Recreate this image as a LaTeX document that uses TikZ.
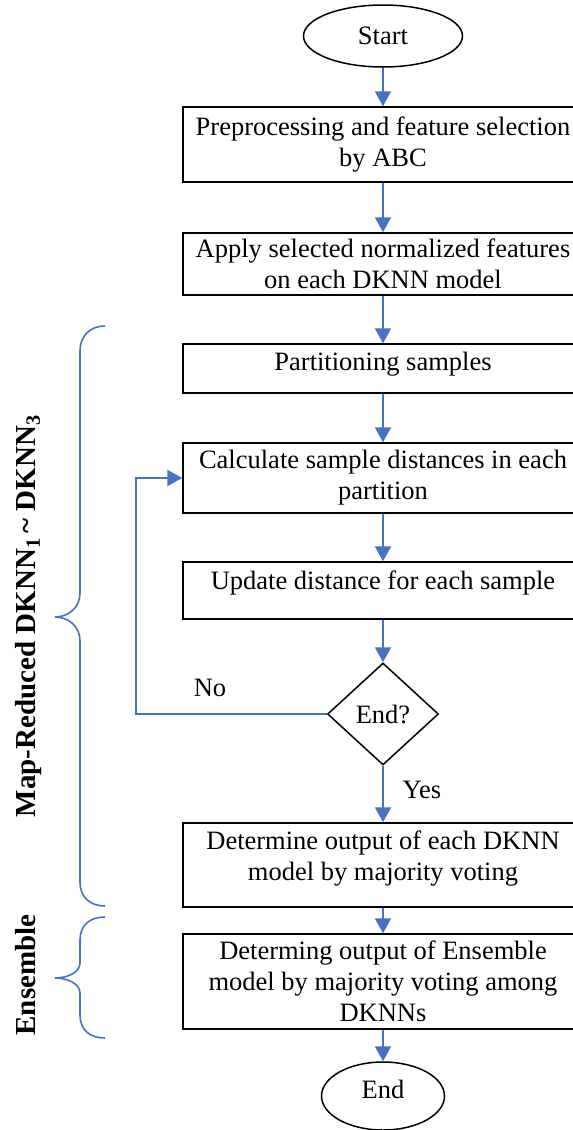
\documentclass[tikz,border=0pt]{standalone}
\usepackage{fontspec}
\setmainfont{Liberation Serif}
\usepackage{xcolor}
\usepackage{tikz}
\usetikzlibrary{arrows.meta, shapes.geometric}

\definecolor{flowblue}{RGB}{68,114,196}

\begin{document}
\begin{tikzpicture}[
    x=1pt, y=-1pt,
    stepbox/.style={draw, line width=1.5pt, minimum width=400pt, align=center, inner sep=0pt, font=\fontsize{26.5}{31}\selectfont},
    term/.style={draw, ellipse, line width=1.5pt, inner sep=0pt, font=\fontsize{26.5}{31}\selectfont},
    decide/.style={draw, diamond, line width=1.5pt, inner sep=0pt, minimum width=111pt, minimum height=102pt, font=\fontsize{26.5}{31}\selectfont},
    flow/.style={-{Triangle[length=15pt, width=16pt]}, line width=2.2pt, flowblue},
    curly/.style={line width=1.6pt, flowblue},
    side/.style={rotate=90, anchor=base, font=\fontsize{29}{34}\selectfont\bfseries},
    lbl/.style={font=\fontsize{26.5}{31}\selectfont}
]
\useasboundingbox (0,0) rectangle (573,1130);

% main column
\node[term, minimum width=159pt, minimum height=62pt] (start) at (383,36) {Start};
\node[stepbox, minimum height=75pt] (prep) at (383,144.5) {Preprocessing and feature selection\\by ABC};
\node[stepbox, minimum height=62pt] (apply) at (383,264) {Apply selected normalized features\\on each DKNN model};
\node[stepbox, minimum height=49pt, text depth=15pt] (part) at (383,368.5) {Partitioning samples};
\node[stepbox, minimum height=70pt] (calc) at (383,478) {Calculate sample distances in each\\partition};
\node[stepbox, minimum height=57pt, text depth=21pt] (upd) at (383,590.5) {Update distance for each sample};
\node[decide] (check) at (383,714) {End?};
\node[stepbox, minimum height=84pt, text depth=18pt] (major) at (383,865) {Determine output of each DKNN\\model by majority voting};
\node[stepbox, minimum height=95pt] (ens) at (383,981.5) {Determing output of Ensemble\\model by majority voting among\\DKNNs};
\node[term, minimum width=123pt, minimum height=68pt, text depth=13pt] (stop) at (383,1096) {End};

% arrows
\draw[flow] (start) -- (prep);
\draw[flow] (prep) -- (apply);
\draw[flow] (apply) -- (part);
\draw[flow] (part) -- (calc);
\draw[flow] (calc) -- (upd);
\draw[flow] (upd) -- (check);
\draw[flow] (check) -- (major);
\draw[flow] (major) -- (ens);
\draw[flow] (ens) -- (stop);

% loop back
\draw[flow] (check.west) -- ++(-191,0) |- (calc.west);
\node[lbl] (no) at (210,688) {No};
\node[lbl] (yes) at (422,790) {Yes};

% braces
\draw[curly] (105,326) .. controls (90,326) and (80,336) .. (80,351)
    -- (80,593) .. controls (80,608) and (68,617) .. (55,617)
    .. controls (68,617) and (80,626) .. (80,641)
    -- (80,882) .. controls (80,897) and (90,906) .. (105,906);
\draw[curly] (105,917) .. controls (90,917) and (80,925) .. (80,940)
    -- (80,963) .. controls (80,972) and (68,978) .. (55,978)
    .. controls (68,978) and (80,984) .. (80,993)
    -- (80,1015) .. controls (80,1030) and (90,1038) .. (105,1038);

\node[side] (mapred) at (35,616) {Map-Reduced DKNN\textsubscript{1}\,\textasciitilde\ DKNN\textsubscript{3}};
\node[side] (ensemble) at (35,975) {Ensemble};

\end{tikzpicture}
\end{document}
